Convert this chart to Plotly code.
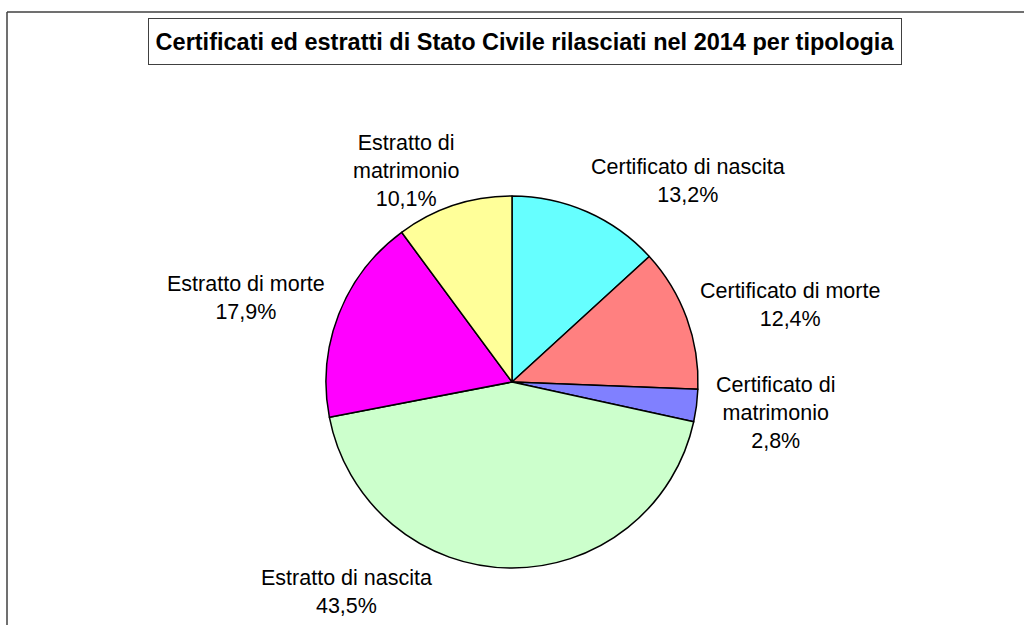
import plotly.graph_objects as go

W, H = 1024, 625

labels = ["Certificato di nascita", "Certificato di morte", "Certificato di matrimonio",
          "Estratto di nascita", "Estratto di morte", "Estratto di matrimonio"]
values = [13.2, 12.4, 2.8, 43.5, 17.9, 10.1]
label_texts = ["Certificato di nascita<br>13,2%", "Certificato di morte<br>12,4%",
               "Certificato di<br>matrimonio<br>2,8%", "Estratto di nascita<br>43,5%",
               "Estratto di morte<br>17,9%", "Estratto di<br>matrimonio<br>10,1%"]
colors = ["#66FFFF", "#FF8080", "#8080FF", "#CCFFCC", "#FF00FF", "#FFFF99"]
title = "Certificati ed estratti di Stato Civile rilasciati nel 2014 per tipologia"

# label centers in pixels (layout positions)
label_pos = [(688, 181), (790, 305), (776, 413), (346, 592), (246, 298), (406, 171)]

def px(x):
    return x / W

def py(y):
    return 1 - y / H

cx, cy, r = 512, 382, 186

fig = go.Figure(go.Pie(
    labels=labels, values=values, sort=False, direction="clockwise", rotation=0,
    marker=dict(colors=colors, line=dict(color="black", width=1.5)),
    textinfo="none", hoverinfo="label+percent", showlegend=False,
    domain=dict(x=[px(cx - r), px(cx + r)], y=[py(cy + r), py(cy - r)]),
))

FONT = "Liberation Sans, Arial, sans-serif"
annotations = []
for t, (x, y) in zip(label_texts, label_pos):
    annotations.append(dict(text=t, x=px(x), y=py(y), xref="paper", yref="paper",
                            xanchor="center", yanchor="middle", showarrow=False,
                            align="center", font=dict(family=FONT, size=21.5, color="black")))
annotations.append(dict(text="<b>" + title + "</b>", x=px(525), y=py(41.5), xref="paper", yref="paper",
                        xanchor="center", yanchor="middle", showarrow=False,
                        font=dict(family=FONT, size=23.5, color="black"),
                        bordercolor="#404040", borderwidth=1, borderpad=0,
                        width=752, height=45, bgcolor="white"))

fig.update_layout(
    width=W, height=H, autosize=False,
    margin=dict(l=0, r=0, t=0, b=0),
    paper_bgcolor="white", plot_bgcolor="white",
    annotations=annotations,
    shapes=[
        dict(type="line", xref="paper", yref="paper", x0=px(7), y0=py(12), x1=1, y1=py(12),
             line=dict(color="#404040", width=1.5)),
        dict(type="line", xref="paper", yref="paper", x0=px(7), y0=py(12), x1=px(7), y1=0,
             line=dict(color="#404040", width=1.5)),
    ],
)

fig.write_html("out.html", config={"displayModeBar": False},
               post_script="document.body.style.margin='0px';document.body.style.overflow='hidden';")
